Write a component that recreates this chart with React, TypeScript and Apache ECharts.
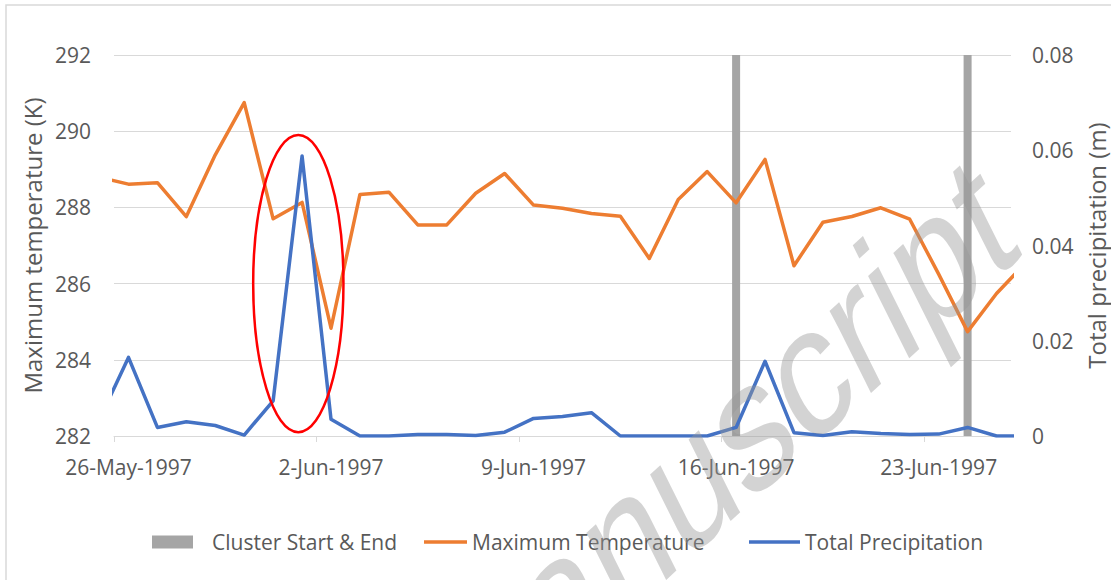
import React, { useEffect, useRef } from "react";
import * as echarts from "echarts";

// ---- data ----
const dates = [
  "25-May-1997", "26-May-1997", "27-May-1997", "28-May-1997", "29-May-1997", "30-May-1997", "31-May-1997",
  "1-Jun-1997", "2-Jun-1997", "3-Jun-1997", "4-Jun-1997", "5-Jun-1997", "6-Jun-1997", "7-Jun-1997",
  "8-Jun-1997", "9-Jun-1997", "10-Jun-1997", "11-Jun-1997", "12-Jun-1997", "13-Jun-1997", "14-Jun-1997",
  "15-Jun-1997", "16-Jun-1997", "17-Jun-1997", "18-Jun-1997", "19-Jun-1997", "20-Jun-1997", "21-Jun-1997",
  "22-Jun-1997", "23-Jun-1997", "24-Jun-1997", "25-Jun-1997", "26-Jun-1997",
];

const maxTemperature = [
  288.79, 288.61, 288.65, 287.76, 289.38, 290.75, 287.7,
  288.13, 284.83, 288.34, 288.4, 287.54, 287.54, 288.37,
  288.89, 288.06, 287.98, 287.84, 287.77, 286.66, 288.21,
  288.94, 288.12, 289.26, 286.47, 287.61, 287.76, 287.99,
  287.69, 286.25, 284.74, 285.74, 286.54,
];

const totalPrecipitation = [
  0.0035, 0.0165, 0.0018, 0.003, 0.0022, 0.0002, 0.0074,
  0.0588, 0.0035, 0.0, 0.0, 0.0003, 0.0003, 0.0001,
  0.0008, 0.0037, 0.0041, 0.0049, 0.0, 0.0, 0.0,
  0.0, 0.0018, 0.0157, 0.0007, 0.0001, 0.0009, 0.0005,
  0.0003, 0.0004, 0.0018, 0.0, 0.0,
];

const clusterDates = ["16-Jun-1997", "24-Jun-1997"];
const clusterHeight = 0.08;

const labelDates = ["26-May-1997", "2-Jun-1997", "9-Jun-1997", "16-Jun-1997", "23-Jun-1997"];
const firstShownDate = "26-May-1997";
const lastShownDate = "25-Jun-1997";

const tempMin = 282;
const tempMax = 292;
const tempStep = 2;
const precipMin = 0;
const precipMax = 0.08;
const precipStep = 0.02;

// red ellipse annotation (data coordinates)
const ellipseCenterDay = 5.87;
const ellipseCenterTemp = 286.0;
const ellipseHalfDays = 1.56;
const ellipseHalfTemp = 3.9;

const FONT = "'Open Sans', sans-serif";
const TEXT = "#595959";
const GRID = "#d9d9d9";

const origin = dates.indexOf(firstShownDate);
const xOf = (i: number) => i - origin;

export default function App() {
  const ref = useRef<HTMLDivElement>(null);

  useEffect(() => {
    if (!ref.current) return;
    const chart = echarts.init(ref.current, undefined, { renderer: "svg" });

    const labelVals = labelDates.map((d) => xOf(dates.indexOf(d)));
    const tickVals = labelVals.map((v) => v - 0.5);
    const xMin = xOf(dates.indexOf(firstShownDate)) - 0.5;
    const xMax = xOf(dates.indexOf(lastShownDate)) + 0.5;

    const legendBase = {
      top: 529,
      padding: 0,
      selectedMode: false,
      textStyle: { fontSize: 21, color: TEXT, fontFamily: FONT, lineHeight: 26 },
    };

    const option: any = {
      animation: false,
      backgroundColor: "#ffffff",
      grid: { left: 114, right: 100, top: 55, bottom: 144, containLabel: false, outerBoundsMode: "none" },
      legend: [
        {
          ...legendBase,
          left: 152,
          itemWidth: 41,
          itemHeight: 13,
          data: [{ name: "Cluster Start & End", icon: "rect" }],
          textStyle: { ...legendBase.textStyle, padding: [0, 0, 0, 14] },
        },
        {
          ...legendBase,
          left: 424,
          itemWidth: 43,
          itemHeight: 3.5,
          data: [{ name: "Maximum Temperature", icon: "rect" }],
        },
        {
          ...legendBase,
          left: 749,
          itemWidth: 51,
          itemHeight: 3.5,
          data: [{ name: "Total Precipitation", icon: "rect" }],
        },
      ],
      xAxis: {
        type: "value",
        min: xMin,
        max: xMax,
        axisLine: { show: true, lineStyle: { color: GRID, width: 1 } },
        axisTick: { show: true, customValues: tickVals, length: 6, lineStyle: { color: GRID } },
        axisLabel: {
          customValues: labelVals,
          formatter: (v: number) => dates[Math.round(v) + origin],
          color: TEXT,
          fontSize: 21,
          fontFamily: FONT,
          margin: 20,
        },
        splitLine: { show: false },
      },
      yAxis: [
        {
          type: "value",
          min: tempMin,
          max: tempMax,
          interval: tempStep,
          position: "left",
          axisLine: { show: false },
          axisTick: { show: false },
          splitLine: { show: true, lineStyle: { color: GRID, width: 1 } },
          axisLabel: { color: TEXT, fontSize: 21, fontFamily: FONT, margin: 23 },
          name: "Maximum temperature (K)",
          nameLocation: "middle",
          nameRotate: 90,
          nameGap: 70,
          nameTextStyle: { fontSize: 24, color: TEXT, fontFamily: FONT },
        },
        {
          type: "value",
          min: precipMin,
          max: precipMax,
          interval: precipStep,
          position: "right",
          axisLine: { show: false },
          axisTick: { show: false },
          splitLine: { show: false },
          axisLabel: { color: TEXT, fontSize: 21, fontFamily: FONT, margin: 21 },
          name: "Total precipitation (m)",
          nameLocation: "middle",
          nameRotate: 90,
          nameGap: 71,
          nameTextStyle: { fontSize: 24, lineHeight: 24, color: TEXT, fontFamily: FONT },
        },
      ],
      series: [
        {
          name: "Cluster Start & End",
          type: "bar",
          yAxisIndex: 1,
          barWidth: 8,
          data: clusterDates.map((d) => [xOf(dates.indexOf(d)), clusterHeight]),
          itemStyle: { color: "#a5a5a5" },
        },
        {
          name: "Maximum Temperature",
          type: "line",
          yAxisIndex: 0,
          symbol: "none",
          clip: true,
          data: maxTemperature.map((v, i) => [xOf(i), v]),
          lineStyle: { color: "#ed7d31", width: 3.5, join: "round", cap: "round" },
          itemStyle: { color: "#ed7d31" },
        },
        {
          name: "Total Precipitation",
          type: "line",
          yAxisIndex: 1,
          symbol: "none",
          clip: true,
          data: totalPrecipitation.map((v, i) => [xOf(i), v]),
          lineStyle: { color: "#4472c4", width: 3.5, join: "round", cap: "round" },
          itemStyle: { color: "#4472c4" },
        },
      ],
    };

    chart.setOption(option);

    const c = chart.convertToPixel({ xAxisIndex: 0, yAxisIndex: 0 }, [ellipseCenterDay, ellipseCenterTemp]) as number[];
    const e = chart.convertToPixel(
      { xAxisIndex: 0, yAxisIndex: 0 },
      [ellipseCenterDay + ellipseHalfDays, ellipseCenterTemp + ellipseHalfTemp]
    ) as number[];

    chart.setOption({
      graphic: [
        {
          type: "rect",
          silent: true,
          shape: { x: 6, y: 5, width: 1200, height: 700 },
          style: { fill: "none", stroke: GRID, lineWidth: 1.5 },
          z: 0,
        },
        {
          type: "ellipse",
          silent: true,
          shape: { cx: c[0], cy: c[1], rx: Math.abs(e[0] - c[0]), ry: Math.abs(c[1] - e[1]) },
          style: { fill: "none", stroke: "#ff0000", lineWidth: 2.5 },
          z: 50,
        },
        {
          type: "group",
          x: 1035,
          y: 278,
          scaleX: 0.74,
          z: 100,
          silent: true,
          children: [
            {
              type: "text",
              rotation: (34 * Math.PI) / 180,
              silent: true,
              z: 100,
              style: {
                text: "Manuscript",
                fontSize: 188,
                fontFamily: "'Liberation Sans', Arial, sans-serif",
                fill: "rgba(150,150,150,0.42)",
                align: "right",
                verticalAlign: "bottom",
              },
            },
          ],
        },
      ],
    });

    return () => chart.dispose();
  }, []);

  return (
    <div
      ref={ref}
      style={{ position: "fixed", left: 0, top: 0, width: 1111, height: 580, background: "#fff" }}
    />
  );
}
